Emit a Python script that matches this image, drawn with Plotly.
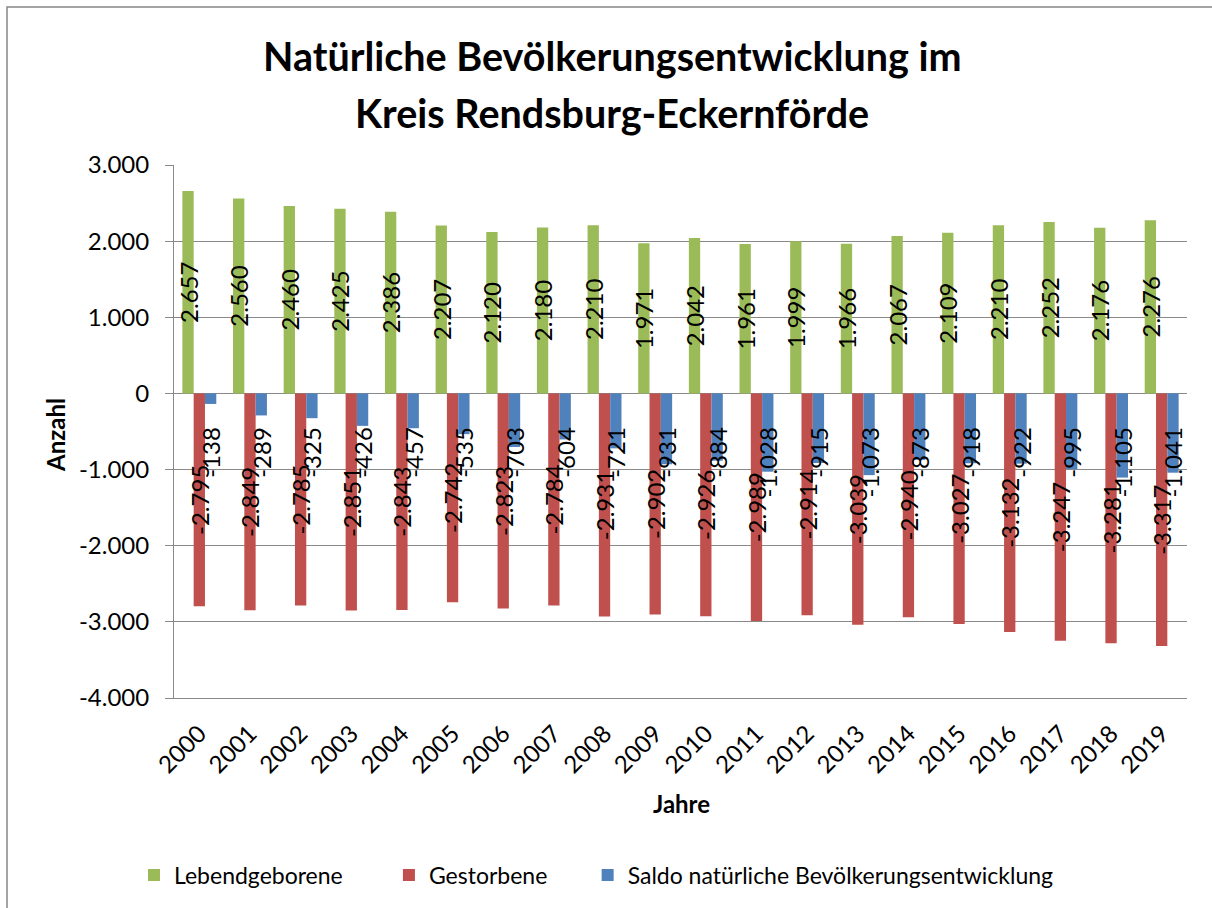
import plotly.graph_objects as go

# ---- data ----
years = ["2000", "2001", "2002", "2003", "2004", "2005", "2006", "2007", "2008", "2009",
         "2010", "2011", "2012", "2013", "2014", "2015", "2016", "2017", "2018", "2019"]
lebendgeborene = [2657, 2560, 2460, 2425, 2386, 2207, 2120, 2180, 2210, 1971,
                  2042, 1961, 1999, 1966, 2067, 2109, 2210, 2252, 2176, 2276]
gestorbene = [-2795, -2849, -2785, -2851, -2843, -2742, -2823, -2784, -2931, -2902,
              -2926, -2989, -2914, -3039, -2940, -3027, -3132, -3247, -3281, -3317]
saldo = [-138, -289, -325, -426, -457, -535, -703, -604, -721, -931,
         -884, -1028, -915, -1073, -873, -918, -922, -995, -1105, -1041]
y_ticks = [-4000, -3000, -2000, -1000, 0, 1000, 2000, 3000]
y_tick_labels = ["-4.000", "-3.000", "-2.000", "-1.000", "0", "1.000", "2.000", "3.000"]

series_names = ["Lebendgeborene", "Gestorbene", "Saldo natürliche Bevölkerungsentwicklung"]
colors = ["#9BBB59", "#C0504D", "#4F81BD"]

FONT = "Lato"
GRID = "#898989"
NB = "\u00a0"

# pixel geometry of plot area
W, H = 1212, 908
L, R, T, B = 174, 25, 165, 210
PW = W - L - R
PH = H - T - B


def px_x(px):
    return (px - L) / PW


def px_y(py):
    return (H - B - py) / PH


def fmt(v):
    s = f"{abs(v):,}".replace(",", ".")
    return ("-" if v < 0 else "") + s


legend_pad = [NB * 7, NB * 6, ""]

fig = go.Figure()
for i, (vals, anchor, pad) in enumerate([
    (lebendgeborene, "middle", ""),
    (gestorbene, "middle", ""),
    (saldo, "start", NB * 5),
]):
    fig.add_trace(go.Bar(
        x=years, y=vals, name=series_names[i] + legend_pad[i],
        marker=dict(color=colors[i], line=dict(width=0)),
        text=[fmt(v) + pad for v in vals],
        textposition="inside",
        insidetextanchor=anchor,
        textangle=-90,
        constraintext="none",
        insidetextfont=dict(family=FONT, size=24, color="black"),
        cliponaxis=False,
    ))

fig.update_layout(
    width=W, height=H, autosize=False,
    margin=dict(l=L, r=R, t=T, b=B, pad=0),
    paper_bgcolor="white", plot_bgcolor="white",
    barmode="group", bargap=0.33, bargroupgap=0,
    font=dict(family=FONT, size=23, color="black"),
    showlegend=True,
    legend=dict(orientation="h", x=px_x(134), xanchor="left", y=px_y(875), yanchor="middle",
                font=dict(family=FONT, size=23, color="black"), traceorder="normal"),
    xaxis=dict(type="category", categoryorder="array", categoryarray=years,
               range=[-0.5, 19.5], tickangle=-45, showgrid=False,
               showline=True, linecolor=GRID, linewidth=1, ticks="",
               tickfont=dict(family=FONT, size=24, color="black"),
               ticklabelstandoff=11),
    xaxis2=dict(overlaying="x", anchor="free", position=px_y(394), range=[-0.5, 19.5],
                tick0=-0.5, dtick=1, ticks="outside", ticklen=6, tickcolor=GRID, tickwidth=1,
                showticklabels=False, showgrid=False, showline=False, zeroline=False),
    yaxis=dict(range=[-4000, 3000], tickvals=y_ticks, ticktext=y_tick_labels,
               showgrid=True, gridcolor=GRID, gridwidth=1,
               zeroline=True, zerolinecolor=GRID, zerolinewidth=1,
               showline=True, linecolor=GRID, linewidth=1,
               ticks="outside", ticklen=8, tickcolor=GRID, tickwidth=1,
               tickfont=dict(family=FONT, size=24, color="black"),
               ticklabelstandoff=11),
)

# title (two lines)
fig.add_annotation(text="<b>Natürliche Bevölkerungsentwicklung im</b>", xref="paper", yref="paper",
                   x=px_x(612), y=px_y(55.5), xanchor="center", yanchor="middle", showarrow=False,
                   font=dict(family=FONT, size=39.5, color="black"))
fig.add_annotation(text="<b>Kreis Rendsburg-Eckernförde</b>", xref="paper", yref="paper",
                   x=px_x(612), y=px_y(112), xanchor="center", yanchor="middle", showarrow=False,
                   font=dict(family=FONT, size=39.5, color="black"))
# axis titles
fig.add_annotation(text="<b>Anzahl</b>", xref="paper", yref="paper", textangle=-90,
                   x=px_x(55), y=px_y(435), xanchor="center", yanchor="middle", showarrow=False,
                   font=dict(family=FONT, size=24, color="black"))
fig.add_annotation(text="<b>Jahre</b>", xref="paper", yref="paper",
                   x=px_x(681), y=px_y(803), xanchor="center", yanchor="middle", showarrow=False,
                   font=dict(family=FONT, size=24, color="black"))

# chart-area frame
fig.add_shape(type="rect", xref="paper", yref="paper",
              x0=px_x(7), x1=px_x(1240), y0=px_y(940), y1=px_y(7),
              line=dict(color="#868686", width=1.5), fillcolor="rgba(0,0,0,0)", layer="above")

fig.write_html("out.html", config={"displayModeBar": False},
               post_script="document.body.style.margin='0';document.body.style.overflow='hidden';")
